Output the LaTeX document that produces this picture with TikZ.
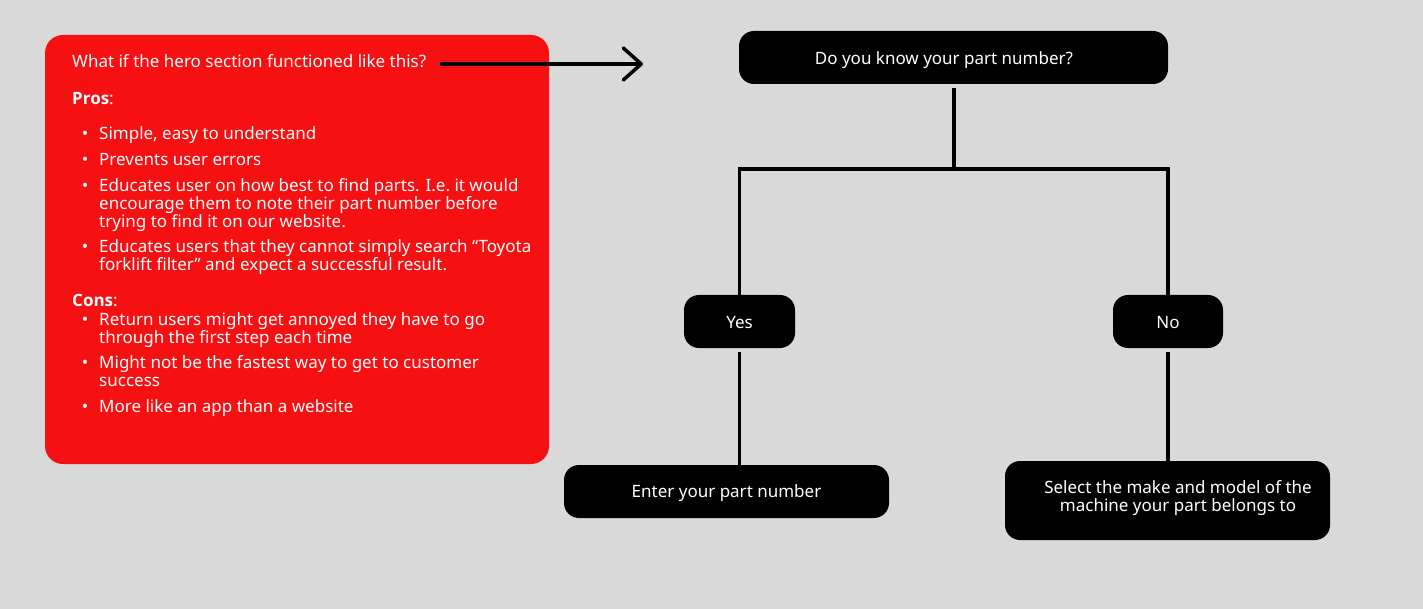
\documentclass[tikz,border=0pt]{standalone}
\usepackage{fontspec}
\setmainfont{Noto Sans}
\newfontfamily\headfont{Open Sans}
\usetikzlibrary{arrows.meta}
\definecolor{canvas}{RGB}{217,217,217}
\definecolor{panelred}{RGB}{246,16,18}
\begin{document}
\begin{tikzpicture}[x=1pt,y=-1pt,
  body/.style={inner sep=0pt, text=white, font=\fontsize{17}{18}\selectfont},
  line/.style={body, anchor=base west},
  bullet/.style={body, anchor=base},
  item/.style={body, anchor=base west},
  flowbox/.style={fill=black, rounded corners=15pt, inner sep=0pt},
  flowtext/.style={body, align=center},
  link/.style={line width=3.5pt},
]
% canvas
\fill[canvas] (0,0) rectangle (1423,609);
\useasboundingbox (0,0) rectangle (1423,609);

% red note panel
\node[fill=panelred, rounded corners=18pt, inner sep=0pt,
      minimum width=504pt, minimum height=429pt] (panel) at (297,249.5) {};

\node[line] (title) at (72,68) {What if the hero section functioned like this?};
\node[line] (pros) at (72,105) {{\headfont\bfseries Pros}:};

\node[bullet] (b1) at (85,140) {•};
\node[item] (p1) at (99,140) {Simple, easy to understand};
\node[bullet] (b2) at (85,166) {•};
\node[item] (p2) at (99,166) {Prevents user errors};
\node[bullet] (b3) at (85,192) {•};
\node[item] (p3) at (99,192) {\parbox[t]{440pt}{\raggedright Educates user on how best to find parts. I.e.\ it would\\ encourage them to note their part number before\\ trying to find it on our website.}};
\node[bullet] (b4) at (85,253) {•};
\node[item] (p4) at (99,253) {\parbox[t]{440pt}{\raggedright Educates users that they cannot simply search “Toyota\\ forklift filter” and expect a successful result.}};

\node[line] (cons) at (72,306) {{\headfont\bfseries Cons}:};
\node[bullet] (b5) at (85,325) {•};
\node[item] (c1) at (99,325) {\parbox[t]{440pt}{\raggedright Return users might get annoyed they have to go\\ through the first step each time}};
\node[bullet] (b6) at (85,368) {•};
\node[item] (c2) at (99,368) {\parbox[t]{440pt}{\raggedright Might not be the fastest way to get to customer\\ success}};
\node[bullet] (b7) at (85,412) {•};
\node[item] (c3) at (99,412) {More like an app than a website};

% pointer from the note to the flow
\coordinate (tip) at (643,64);
\draw[line width=3.5pt, -{Straight Barb[length=18pt, width=32pt, round]}]
  ([xshift=14pt]title.east |- tip) -- (tip);

% flow boxes
\node[flowbox, minimum width=429pt, minimum height=53pt] (q) at (953.5,57.5) {};
\node[flowtext] (qt) at (944,60) {Do you know your part number?};

\node[flowbox, minimum width=111pt, minimum height=53pt] (yes) at (739.5,321.5) {};
\node[flowtext] (yest) at (739.5,322.5) {Yes};

\node[flowbox, minimum width=110pt, minimum height=53pt] (no) at (1168,321.5) {};
\node[flowtext] (not) at (1168,322.5) {No};

\node[flowbox, minimum width=325pt, minimum height=53pt] (enter) at (726.5,491.5) {};
\node[flowtext] (entert) at (726.5,493.5) {Enter your part number};

\node[flowbox, minimum width=325pt, minimum height=79pt] (select) at (1167.5,500.5) {};
\node[flowtext] (selectt) at (1178,498) {Select the make and model of the\\ machine your part belongs to};

% connectors
\coordinate (split) at (954,169);
\draw[link, shorten <=4pt] (q.south -| split) -- (split);
\draw[link] (yes.north) |- (split) -| (no.north);
\draw[link, shorten <=4pt] (yes.south) -- (yes.south |- enter.north);
\draw[link, shorten <=4pt] (no.south) -- (no.south |- select.north);
\end{tikzpicture}
\end{document}
